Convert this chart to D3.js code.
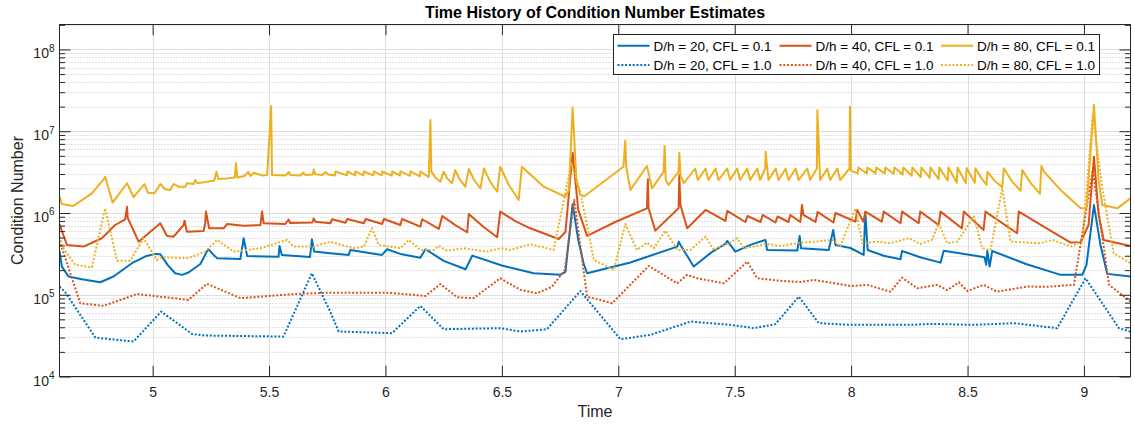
<!DOCTYPE html>
<html>
<head>
<meta charset="utf-8">
<script src="https://cdn.jsdelivr.net/npm/d3@7"></script>
<style>
  body { margin: 0; background: #fff; }
  svg { display: block; font-family: "Liberation Sans", Arial, Helvetica, sans-serif; }
</style>
</head>
<body>
<svg id="chart" width="1135" height="426"></svg>
<script>
// ---- condition number estimates, [time, value] ----
const dh20_cfl01 = [[4.600,3.46e5],[4.610,2.21e5],[4.639,1.67e5],[4.696,1.55e5],[4.775,1.42e5],[4.832,1.67e5],[4.911,2.43e5],[4.970,2.95e5],[5.012,3.16e5],[5.033,3.13e5],[5.065,2.30e5],[5.097,1.83e5],[5.126,1.75e5],[5.154,1.87e5],[5.205,2.38e5],[5.239,3.63e5],[5.257,3.16e5],[5.277,2.80e5],[5.377,2.74e5],[5.391,4.91e5],[5.406,2.98e5],[5.541,2.92e5],[5.545,3.95e5],[5.555,3.07e5],[5.676,2.90e5],[5.684,4.77e5],[5.694,3.37e5],[5.763,3.22e5],[5.842,3.07e5],[5.849,3.53e5],[5.985,3.07e5],[6.007,3.60e5],[6.070,3.12e5],[6.150,2.84e5],[6.172,3.60e5],[6.250,2.60e5],[6.344,2.05e5],[6.373,3.01e5],[6.500,2.28e5],[6.637,1.83e5],[6.751,1.75e5],[6.773,1.90e5],[6.804,1.28e6],[6.828,4.68e5],[6.851,2.43e5],[6.866,1.83e5],[7.052,2.48e5],[7.253,3.88e5],[7.260,4.46e5],[7.267,4.06e5],[7.324,2.21e5],[7.400,3.30e5],[7.460,4.18e5],[7.468,4.55e5],[7.503,3.37e5],[7.570,4.10e5],[7.632,4.68e5],[7.639,3.53e5],[7.769,3.48e5],[7.779,5.24e5],[7.785,3.70e5],[7.904,3.53e5],[7.923,6.20e5],[7.933,4.06e5],[7.997,3.73e5],[8.054,3.07e5],[8.061,1.01e6],[8.071,3.53e5],[8.140,3.00e5],[8.212,2.72e5],[8.219,3.43e5],[8.300,2.85e5],[8.384,2.47e5],[8.398,3.46e5],[8.573,2.88e5],[8.580,2.32e5],[8.585,3.43e5],[8.595,2.21e5],[8.606,3.43e5],[8.751,2.38e5],[8.900,1.75e5],[8.993,1.75e5],[9.011,2.32e5],[9.043,1.25e6],[9.071,4.06e5],[9.100,1.80e5],[9.200,1.67e5]];

const dh20_cfl10 = [[4.600,1.26e5],[4.624,1.08e5],[4.754,2.99e4],[4.918,2.68e4],[5.037,6.22e4],[5.169,3.32e4],[5.226,3.17e4],[5.562,3.08e4],[5.684,1.83e5],[5.763,6.20e4],[5.799,3.55e4],[6.028,3.39e4],[6.150,7.31e4],[6.250,3.79e4],[6.493,3.90e4],[6.579,3.55e4],[6.694,3.79e4],[6.837,1.11e5],[7.009,2.86e4],[7.138,3.23e4],[7.310,4.70e4],[7.482,4.28e4],[7.582,3.90e4],[7.675,4.37e4],[7.775,9.49e4],[7.861,4.49e4],[7.997,4.28e4],[8.255,4.28e4],[8.341,4.40e4],[8.527,4.28e4],[8.699,4.49e4],[8.885,3.90e4],[9.007,1.59e5],[9.150,3.90e4],[9.200,3.55e4]];

const dh40_cfl01 = [[4.600,7.28e5],[4.632,4.06e5],[4.703,3.88e5],[4.782,4.91e5],[4.839,7.13e5],[4.882,8.38e5],[4.890,1.19e6],[4.893,8.69e5],[4.940,4.46e5],[5.033,7.48e5],[5.062,5.24e5],[5.090,5.13e5],[5.133,7.13e5],[5.137,8.05e5],[5.147,5.91e5],[5.219,6.03e5],[5.226,7.55e5],[5.229,1.04e6],[5.243,6.50e5],[5.305,6.50e5],[5.320,7.34e5],[5.391,7.00e5],[5.463,7.13e5],[5.470,1.04e6],[5.477,7.48e5],[5.570,7.34e5],[5.584,8.33e5],[5.591,7.55e5],[5.686,7.65e5],[5.692,8.57e5],[5.699,7.83e5],[5.763,7.48e5],[5.771,8.38e5],[5.828,7.61e5],[5.836,8.45e5],[5.907,7.48e5],[5.915,8.45e5],[5.986,7.34e5],[5.993,8.45e5],[6.064,7.13e5],[6.071,8.45e5],[6.150,6.80e5],[6.158,8.38e5],[6.229,6.38e5],[6.244,9.19e5],[6.300,7.10e5],[6.351,5.81e5],[6.358,9.72e5],[6.420,6.80e5],[6.480,5.05e5],[6.493,1.04e6],[6.560,7.90e5],[6.622,6.50e5],[6.744,4.81e5],[6.773,5.86e5],[6.804,5.45e6],[6.828,1.09e6],[6.866,5.24e5],[6.987,7.76e5],[7.123,1.14e6],[7.127,2.58e6],[7.130,1.14e6],[7.159,6.08e5],[7.259,1.14e6],[7.262,2.91e6],[7.267,1.25e6],[7.296,6.50e5],[7.375,1.09e6],[7.460,7.98e5],[7.468,1.06e6],[7.546,7.76e5],[7.555,9.19e5],[7.611,7.76e5],[7.620,9.46e5],[7.675,7.65e5],[7.684,9.06e5],[7.731,7.76e5],[7.739,9.46e5],[7.782,7.76e5],[7.789,1.25e6],[7.795,9.46e5],[7.847,7.76e5],[7.856,1.03e6],[7.924,7.65e5],[7.933,1.00e6],[8.019,7.83e5],[8.026,1.09e6],[8.053,7.83e5],[8.061,1.04e6],[8.132,7.83e5],[8.140,1.04e6],[8.212,7.48e5],[8.219,1.04e6],[8.290,7.48e5],[8.297,1.04e6],[8.376,7.13e5],[8.384,1.04e6],[8.476,6.50e5],[8.484,1.04e6],[8.569,6.20e5],[8.577,1.04e6],[8.713,5.65e5],[8.720,1.04e6],[8.836,6.56e5],[8.943,4.34e5],[8.986,4.40e5],[9.020,7.13e5],[9.043,4.87e6],[9.063,9.46e5],[9.085,4.68e5],[9.200,3.95e5]];

const dh40_cfl10 = [[4.600,4.60e5],[4.689,7.88e4],[4.789,7.31e4],[4.933,1.02e5],[5.154,8.65e4],[5.233,1.36e5],[5.377,9.08e4],[5.606,1.02e5],[5.763,1.06e5],[6.007,1.06e5],[6.172,9.68e4],[6.236,1.35e5],[6.308,9.33e4],[6.379,9.08e4],[6.493,1.59e5],[6.579,1.15e5],[6.651,1.04e5],[6.716,1.26e5],[6.770,2.00e5],[6.811,1.44e6],[6.866,9.49e4],[6.974,7.88e4],[7.131,2.25e5],[7.253,1.38e5],[7.296,1.75e5],[7.339,1.59e5],[7.454,1.38e5],[7.554,2.54e5],[7.597,1.59e5],[7.697,1.48e5],[7.782,1.43e5],[7.840,1.52e5],[7.997,1.28e5],[8.069,1.32e5],[8.169,1.09e5],[8.219,1.62e5],[8.284,1.20e5],[8.370,1.32e5],[8.413,1.14e5],[8.463,1.42e5],[8.499,1.11e5],[8.569,1.32e5],[8.627,1.09e5],[8.756,1.26e5],[8.843,1.25e5],[8.957,1.32e5],[9.038,3.35e6],[9.108,1.32e5],[9.200,8.25e4]];

const dh80_cfl01 = [[4.600,1.61e6],[4.610,1.29e6],[4.660,1.22e6],[4.739,1.74e6],[4.793,2.65e6],[4.796,2.77e6],[4.828,1.34e6],[4.890,2.31e6],[4.918,1.56e6],[4.965,2.26e6],[4.980,1.77e6],[5.008,1.74e6],[5.033,2.26e6],[5.054,1.95e6],[5.076,1.91e6],[5.090,2.26e6],[5.112,2.10e6],[5.140,2.10e6],[5.148,2.31e6],[5.176,2.26e6],[5.183,2.53e6],[5.192,2.31e6],[5.226,2.39e6],[5.265,2.50e6],[5.274,3.20e6],[5.282,2.60e6],[5.320,2.65e6],[5.353,2.71e6],[5.358,4.05e6],[5.364,2.72e6],[5.394,2.83e6],[5.411,3.17e6],[5.420,2.83e6],[5.434,3.10e6],[5.472,2.87e6],[5.492,2.91e6],[5.509,2.03e7],[5.513,2.91e6],[5.571,2.87e6],[5.585,3.17e6],[5.592,2.91e6],[5.634,2.87e6],[5.647,3.13e6],[5.656,2.91e6],[5.688,2.95e6],[5.692,3.40e6],[5.699,2.98e6],[5.729,2.91e6],[5.742,3.17e6],[5.755,2.95e6],[5.783,2.88e6],[5.785,3.22e6],[5.834,2.88e6],[5.836,3.22e6],[5.869,2.88e6],[5.871,3.22e6],[5.905,2.88e6],[5.907,3.22e6],[5.948,2.88e6],[5.950,3.22e6],[5.984,2.88e6],[5.986,3.22e6],[6.027,2.86e6],[6.029,3.22e6],[6.062,2.86e6],[6.064,3.22e6],[6.105,2.84e6],[6.107,3.22e6],[6.148,2.80e6],[6.150,3.22e6],[6.186,2.75e6],[6.193,1.37e7],[6.197,3.20e6],[6.215,2.70e6],[6.236,2.41e6],[6.250,3.20e6],[6.265,2.65e6],[6.286,2.31e6],[6.300,3.35e6],[6.318,2.60e6],[6.343,2.10e6],[6.358,3.45e6],[6.380,2.55e6],[6.408,2.00e6],[6.423,3.52e6],[6.450,2.40e6],[6.480,1.82e6],[6.493,3.68e6],[6.530,2.20e6],[6.572,1.44e6],[6.586,3.68e6],[6.680,2.10e6],[6.773,1.58e6],[6.788,1.91e6],[6.804,1.96e7],[6.820,2.53e6],[6.837,1.66e6],[6.854,1.60e6],[6.935,2.39e6],[7.022,3.68e6],[7.030,7.64e6],[7.034,3.70e6],[7.052,1.91e6],[7.123,3.75e6],[7.145,2.00e6],[7.195,3.20e6],[7.199,6.59e6],[7.204,2.53e6],[7.216,2.20e6],[7.259,3.20e6],[7.262,5.45e6],[7.267,2.91e6],[7.281,2.31e6],[7.330,3.50e6],[7.342,2.53e6],[7.375,3.50e6],[7.387,2.53e6],[7.418,3.50e6],[7.430,2.53e6],[7.468,3.50e6],[7.480,2.53e6],[7.511,3.50e6],[7.523,2.53e6],[7.554,3.50e6],[7.566,2.53e6],[7.597,3.50e6],[7.609,2.53e6],[7.631,3.50e6],[7.633,5.61e6],[7.645,2.53e6],[7.676,3.50e6],[7.688,2.53e6],[7.719,3.50e6],[7.731,2.53e6],[7.762,3.50e6],[7.774,2.53e6],[7.812,3.50e6],[7.824,2.53e6],[7.853,3.50e6],[7.855,1.81e7],[7.867,2.53e6],[7.898,3.50e6],[7.910,2.53e6],[7.941,3.50e6],[7.953,2.53e6],[7.993,3.50e6],[7.995,1.99e7],[7.999,3.30e6],[8.028,3.05e6],[8.031,3.60e6],[8.067,3.05e6],[8.070,3.60e6],[8.105,3.05e6],[8.108,3.60e6],[8.144,3.05e6],[8.147,3.60e6],[8.183,3.00e6],[8.186,3.60e6],[8.221,2.95e6],[8.224,3.60e6],[8.260,2.85e6],[8.263,3.60e6],[8.299,2.75e6],[8.302,3.60e6],[8.338,2.68e6],[8.341,3.60e6],[8.376,2.60e6],[8.379,3.60e6],[8.415,2.50e6],[8.418,3.60e6],[8.454,2.35e6],[8.457,3.60e6],[8.493,2.30e6],[8.496,3.55e6],[8.531,2.35e6],[8.534,3.52e6],[8.560,2.65e6],[8.582,2.20e6],[8.585,3.20e6],[8.615,2.50e6],[8.649,2.06e6],[8.656,3.52e6],[8.690,2.45e6],[8.728,1.87e6],[8.735,3.35e6],[8.770,2.35e6],[8.811,1.71e6],[8.817,3.75e6],[8.828,3.20e6],[8.900,1.91e6],[8.986,1.14e6],[9.011,1.15e6],[9.043,2.09e7],[9.063,2.53e6],[9.079,1.25e6],[9.143,1.14e6],[9.200,1.51e6]];

const dh80_cfl10 = [[4.600,5.13e5],[4.617,3.70e5],[4.667,2.32e5],[4.739,2.17e5],[4.796,1.14e6],[4.847,2.61e5],[4.904,2.61e5],[4.961,4.91e5],[5.018,2.67e5],[5.040,2.88e5],[5.154,2.80e5],[5.226,3.37e5],[5.277,4.68e5],[5.348,3.37e5],[5.463,3.70e5],[5.577,4.68e5],[5.606,3.88e5],[5.692,3.88e5],[5.763,4.46e5],[5.863,3.70e5],[5.907,3.88e5],[5.942,6.50e5],[5.971,4.06e5],[6.064,3.70e5],[6.100,4.68e5],[6.150,3.53e5],[6.207,3.53e5],[6.229,3.95e5],[6.265,3.46e5],[6.337,3.70e5],[6.437,3.37e5],[6.493,3.70e5],[6.536,3.53e5],[6.622,4.15e5],[6.722,3.53e5],[6.799,4.08e6],[6.837,1.82e6],[6.895,2.67e5],[6.981,2.01e5],[7.030,7.34e5],[7.080,3.53e5],[7.123,4.34e5],[7.152,3.70e5],[7.202,6.08e5],[7.253,3.53e5],[7.310,3.53e5],[7.375,5.13e5],[7.410,3.53e5],[7.468,4.18e5],[7.511,4.91e5],[7.539,3.70e5],[7.640,4.18e5],[7.697,3.95e5],[7.782,4.34e5],[7.840,4.46e5],[7.926,4.68e5],[7.953,3.88e5],[8.019,1.14e6],[8.048,4.27e5],[8.112,4.46e5],[8.169,4.27e5],[8.248,4.91e5],[8.297,4.18e5],[8.347,4.68e5],[8.376,7.48e5],[8.413,4.27e5],[8.456,4.46e5],[8.527,9.02e5],[8.563,3.70e5],[8.599,3.53e5],[8.649,2.00e6],[8.685,4.46e5],[8.814,4.27e5],[8.865,4.68e5],[8.943,3.88e5],[8.993,4.46e5],[9.038,1.57e7],[9.079,2.00e6],[9.128,3.23e5],[9.200,2.43e5]];

// ---- labels and ticks ----
const seriesNames = ["D/h = 20, CFL = 0.1", "D/h = 20, CFL = 1.0",
                     "D/h = 40, CFL = 0.1", "D/h = 40, CFL = 1.0",
                     "D/h = 80, CFL = 0.1", "D/h = 80, CFL = 1.0"];
const timeTicks = [5, 5.5, 6, 6.5, 7, 7.5, 8, 8.5, 9];
const timeTickLabels = ["5", "5.5", "6", "6.5", "7", "7.5", "8", "8.5", "9"];
const decadeExponents = [4, 5, 6, 7, 8];
const titleText = "Time History of Condition Number Estimates";
const xLabelText = "Time";
const yLabelText = "Condition Number";

// ---- drawing ----
const svg = d3.select("#chart");
const box = { left: 59.5, right: 1130.5, top: 24.5, bottom: 376.5 };
const axisColor = "#262626";

const x = d3.scaleLinear().domain([4.6, 9.2]).range([box.left, box.right]);
const y = d3.scaleLog().domain([1e4, 2.02e8]).range([box.bottom, box.top]);

const majorY = decadeExponents.map(e => Math.pow(10, e));
const minorY = [];
decadeExponents.forEach(e => {
  for (let m = 2; m <= 9; m++) {
    const v = m * Math.pow(10, e);
    if (v < y.domain()[1]) minorY.push(v);
  }
});

// background
svg.append("rect").attr("x", box.left).attr("y", box.top)
  .attr("width", box.right - box.left).attr("height", box.bottom - box.top)
  .attr("fill", "#fff");

// grid
const grid = svg.append("g");
grid.selectAll(".gminor").data(minorY).join("line")
  .attr("x1", box.left).attr("x2", box.right)
  .attr("y1", d => Math.round(y(d)) + 0.5).attr("y2", d => Math.round(y(d)) + 0.5)
  .attr("stroke", "#c8c8c8").attr("stroke-width", 1).attr("stroke-dasharray", "1,2");
grid.selectAll(".gmajy").data(majorY).join("line")
  .attr("x1", box.left).attr("x2", box.right)
  .attr("y1", d => Math.round(y(d)) + 0.5).attr("y2", d => Math.round(y(d)) + 0.5)
  .attr("stroke", "#dedede").attr("stroke-width", 1);
grid.selectAll(".gmajx").data(timeTicks).join("line")
  .attr("x1", d => Math.round(x(d)) + 0.5).attr("x2", d => Math.round(x(d)) + 0.5)
  .attr("y1", box.top).attr("y2", box.bottom)
  .attr("stroke", "#dedede").attr("stroke-width", 1);

// data
svg.append("clipPath").attr("id", "plotclip").append("rect")
  .attr("x", box.left).attr("y", box.top)
  .attr("width", box.right - box.left).attr("height", box.bottom - box.top);

const series = [
  { name: seriesNames[0], data: dh20_cfl01, color: "#0072BD", dotted: false },
  { name: seriesNames[1], data: dh20_cfl10, color: "#0072BD", dotted: true },
  { name: seriesNames[2], data: dh40_cfl01, color: "#D95319", dotted: false },
  { name: seriesNames[3], data: dh40_cfl10, color: "#D95319", dotted: true },
  { name: seriesNames[4], data: dh80_cfl01, color: "#EDB120", dotted: false },
  { name: seriesNames[5], data: dh80_cfl10, color: "#EDB120", dotted: true }
];

const line = d3.line().x(d => x(d[0])).y(d => y(d[1]));
const lines = svg.append("g").attr("clip-path", "url(#plotclip)");
series.forEach(s => {
  lines.append("path").datum(s.data)
    .attr("d", line)
    .attr("fill", "none")
    .attr("stroke", s.color)
    .attr("stroke-width", 2)
    .attr("stroke-linejoin", "round")
    .attr("stroke-dasharray", s.dotted ? "2,1.8" : null);
});

// axes (ticks point inward, box on all sides)
const axes = svg.append("g").attr("color", axisColor);
const styleAxis = g => {
  g.select(".domain").remove();
  g.selectAll(".tick line").attr("stroke", axisColor).attr("stroke-width", 1);
};

axes.append("g").attr("transform", `translate(0,${box.bottom})`)
  .call(d3.axisBottom(x).tickValues(timeTicks).tickSizeInner(-10.7).tickSizeOuter(0)
    .tickPadding(11).tickFormat((d, i) => timeTickLabels[i]))
  .call(styleAxis)
  .call(g => g.selectAll("text").attr("font-size", 14).attr("fill", axisColor)
    .attr("font-family", "Liberation Sans, Arial, sans-serif"));

axes.append("g").attr("transform", `translate(0,${box.top})`)
  .call(d3.axisTop(x).tickValues(timeTicks).tickSizeInner(-10.7).tickSizeOuter(0).tickFormat(""))
  .call(styleAxis);

axes.append("g").attr("transform", `translate(${box.left},0)`)
  .call(d3.axisLeft(y).tickValues(majorY).tickSizeInner(-11).tickSizeOuter(0).tickFormat(""))
  .call(styleAxis);
axes.append("g").attr("transform", `translate(${box.left},0)`)
  .call(d3.axisLeft(y).tickValues(minorY).tickSizeInner(-5.5).tickSizeOuter(0).tickFormat(""))
  .call(styleAxis);
axes.append("g").attr("transform", `translate(${box.right},0)`)
  .call(d3.axisRight(y).tickValues(majorY).tickSizeInner(-11).tickSizeOuter(0).tickFormat(""))
  .call(styleAxis);
axes.append("g").attr("transform", `translate(${box.right},0)`)
  .call(d3.axisRight(y).tickValues(minorY).tickSizeInner(-5.5).tickSizeOuter(0).tickFormat(""))
  .call(styleAxis);

// box outline
axes.append("rect").attr("x", box.left).attr("y", box.top)
  .attr("width", box.right - box.left).attr("height", box.bottom - box.top)
  .attr("fill", "none").attr("stroke", axisColor).attr("stroke-width", 1);

// y tick labels as powers of ten
const yLabels = axes.append("g");
decadeExponents.forEach(e => {
  const ty = y(Math.pow(10, e));
  const t = yLabels.append("text")
    .attr("x", 54.5).attr("y", ty + 9)
    .attr("text-anchor", "end").attr("fill", axisColor).attr("font-size", 14);
  t.append("tspan").text("10");
  t.append("tspan").attr("dy", -6.5).attr("font-size", 10).text(String(e));
});

// titles
svg.append("text").attr("x", (box.left + box.right) / 2).attr("y", 18)
  .attr("text-anchor", "middle").attr("font-weight", "bold").attr("font-size", 16)
  .attr("fill", "#000").text(titleText);
svg.append("text").attr("x", (box.left + box.right) / 2).attr("y", 417)
  .attr("text-anchor", "middle").attr("font-size", 16).attr("fill", axisColor).text(xLabelText);
svg.append("text").attr("transform", `translate(23,${(box.top + box.bottom) / 2}) rotate(-90)`)
  .attr("text-anchor", "middle").attr("font-size", 16).attr("fill", axisColor).text(yLabelText);

// legend: three columns, solid row then dotted row
const legend = svg.append("g");
legend.append("rect").attr("x", 613.5).attr("y", 34.5).attr("width", 486).attr("height", 40)
  .attr("fill", "#fff").attr("stroke", axisColor).attr("stroke-width", 1);
const colX = [617.5, 779.5, 941];
const rowY = [45.7, 65];
series.forEach((s, i) => {
  const col = Math.floor(i / 2), row = i % 2;
  const lx = colX[col], ly = rowY[row];
  legend.append("line").attr("x1", lx).attr("x2", lx + 32).attr("y1", ly).attr("y2", ly)
    .attr("stroke", s.color).attr("stroke-width", 2)
    .attr("stroke-dasharray", s.dotted ? "2,1.8" : null);
  legend.append("text").attr("x", lx + 36).attr("y", ly + 4.8)
    .attr("font-size", 13.5).attr("fill", "#000").text(s.name);
});
</script>
</body>
</html>
